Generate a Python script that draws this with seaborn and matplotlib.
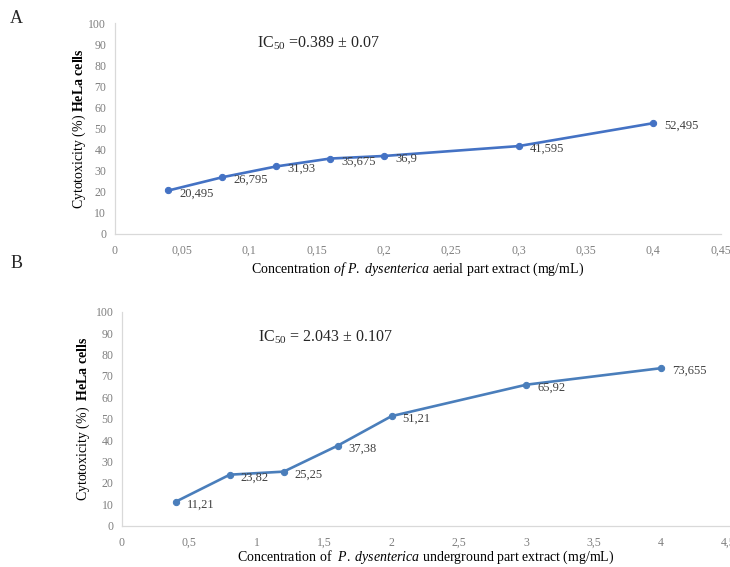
import matplotlib
matplotlib.use("Agg")
import matplotlib.pyplot as plt
from matplotlib.ticker import FuncFormatter, MultipleLocator
import pandas as pd
import seaborn as sns

# panel A: aerial part extract
conc_aerial = [0.04, 0.08, 0.12, 0.16, 0.20, 0.30, 0.40]
cytotox_aerial = [20.495, 26.795, 31.93, 35.675, 36.9, 41.595, 52.495]

# panel B: underground part extract
conc_under = [0.4, 0.8, 1.2, 1.6, 2.0, 3.0, 4.0]
cytotox_under = [11.21, 23.82, 25.25, 37.38, 51.21, 65.92, 73.655]

ic50_aerial = r"IC$_{50}$ =0.389 ± 0.07"
ic50_under = r"IC$_{50}$ = 2.043 ± 0.107"

sns.set_style("white")
plt.rcParams["font.family"] = ["Liberation Serif", "DejaVu Serif"]
plt.rcParams["mathtext.fontset"] = "custom"
plt.rcParams["mathtext.rm"] = "Liberation Serif"
plt.rcParams["mathtext.it"] = "Liberation Serif:italic"
plt.rcParams["mathtext.bf"] = "Liberation Serif:bold"

SPINE = "#d9d9d9"
TICK = "#7f7f7f"


def comma(v, _pos=None):
    return f"{v:g}".replace(".", ",")


def draw_panel(ax, x, y, color, xmax, xstep, ic50, ic50_pos, xlabel, ylabel,
               xpad, ypad):
    df = pd.DataFrame({"conc": x, "cyt": y})
    sns.lineplot(data=df, x="conc", y="cyt", ax=ax, color=color, linewidth=1.9,
                 marker="o", markersize=4.5, markeredgecolor=color)
    for xi, yi in zip(x, y):
        ax.annotate(comma(yi), (xi, yi), xytext=(8, -2), textcoords="offset points",
                    ha="left", va="center", fontsize=9, color="#404040")
    ax.set_xlim(0, xmax)
    ax.set_ylim(0, 100)
    ax.xaxis.set_major_locator(MultipleLocator(xstep))
    ax.yaxis.set_major_locator(MultipleLocator(10))
    ax.xaxis.set_major_formatter(FuncFormatter(comma))
    ax.yaxis.set_major_formatter(FuncFormatter(comma))
    ax.tick_params(axis="both", labelsize=8.5, colors=TICK, length=3, width=0.8,
                   color=SPINE, pad=3)
    ax.tick_params(axis="x", pad=5)
    for side in ["top", "right"]:
        ax.spines[side].set_visible(False)
    for side in ["left", "bottom"]:
        ax.spines[side].set_color(SPINE)
        ax.spines[side].set_linewidth(0.9)
    ax.set_xlabel(xlabel, fontsize=10, color="black", labelpad=xpad)
    ax.set_ylabel(ylabel, fontsize=10, color="black", labelpad=ypad)
    ax.text(ic50_pos[0], ic50_pos[1], ic50, transform=ax.transAxes,
            fontsize=11.5, va="center", ha="left")


fig = plt.figure(figsize=(7.3, 5.67), dpi=100)
ax_a = fig.add_axes([0.157, 0.588, 0.830, 0.371])
ax_b = fig.add_axes([0.167, 0.073, 0.831, 0.377])

draw_panel(ax_a, conc_aerial, cytotox_aerial, "#4472c4", 0.45, 0.05, ic50_aerial,
           (0.235, 0.906),
           r"Concentration $\it{of}$ $\it{P.}$$\it{\ dysenterica}$ aerial part extract (mg/mL)",
           r"Cytotoxicity (%) $\bf{HeLa}$ $\bf{cells}$", 3, 0.5)
draw_panel(ax_b, conc_under, cytotox_under, "#4a7ebb", 4.5, 0.5, ic50_under,
           (0.224, 0.882),
           r"Concentration of  $\it{P.}$$\it{\ dysenterica}$ underground part extract (mg/mL)",
           r"Cytotoxicity (%)  $\bf{HeLa}$ $\bf{cells}$", 0, 2.5)

fig.text(0.014, 0.968, "A", fontsize=13, va="center")
fig.text(0.014, 0.535, "B", fontsize=13, va="center")

fig.savefig("out.png", dpi=100)
